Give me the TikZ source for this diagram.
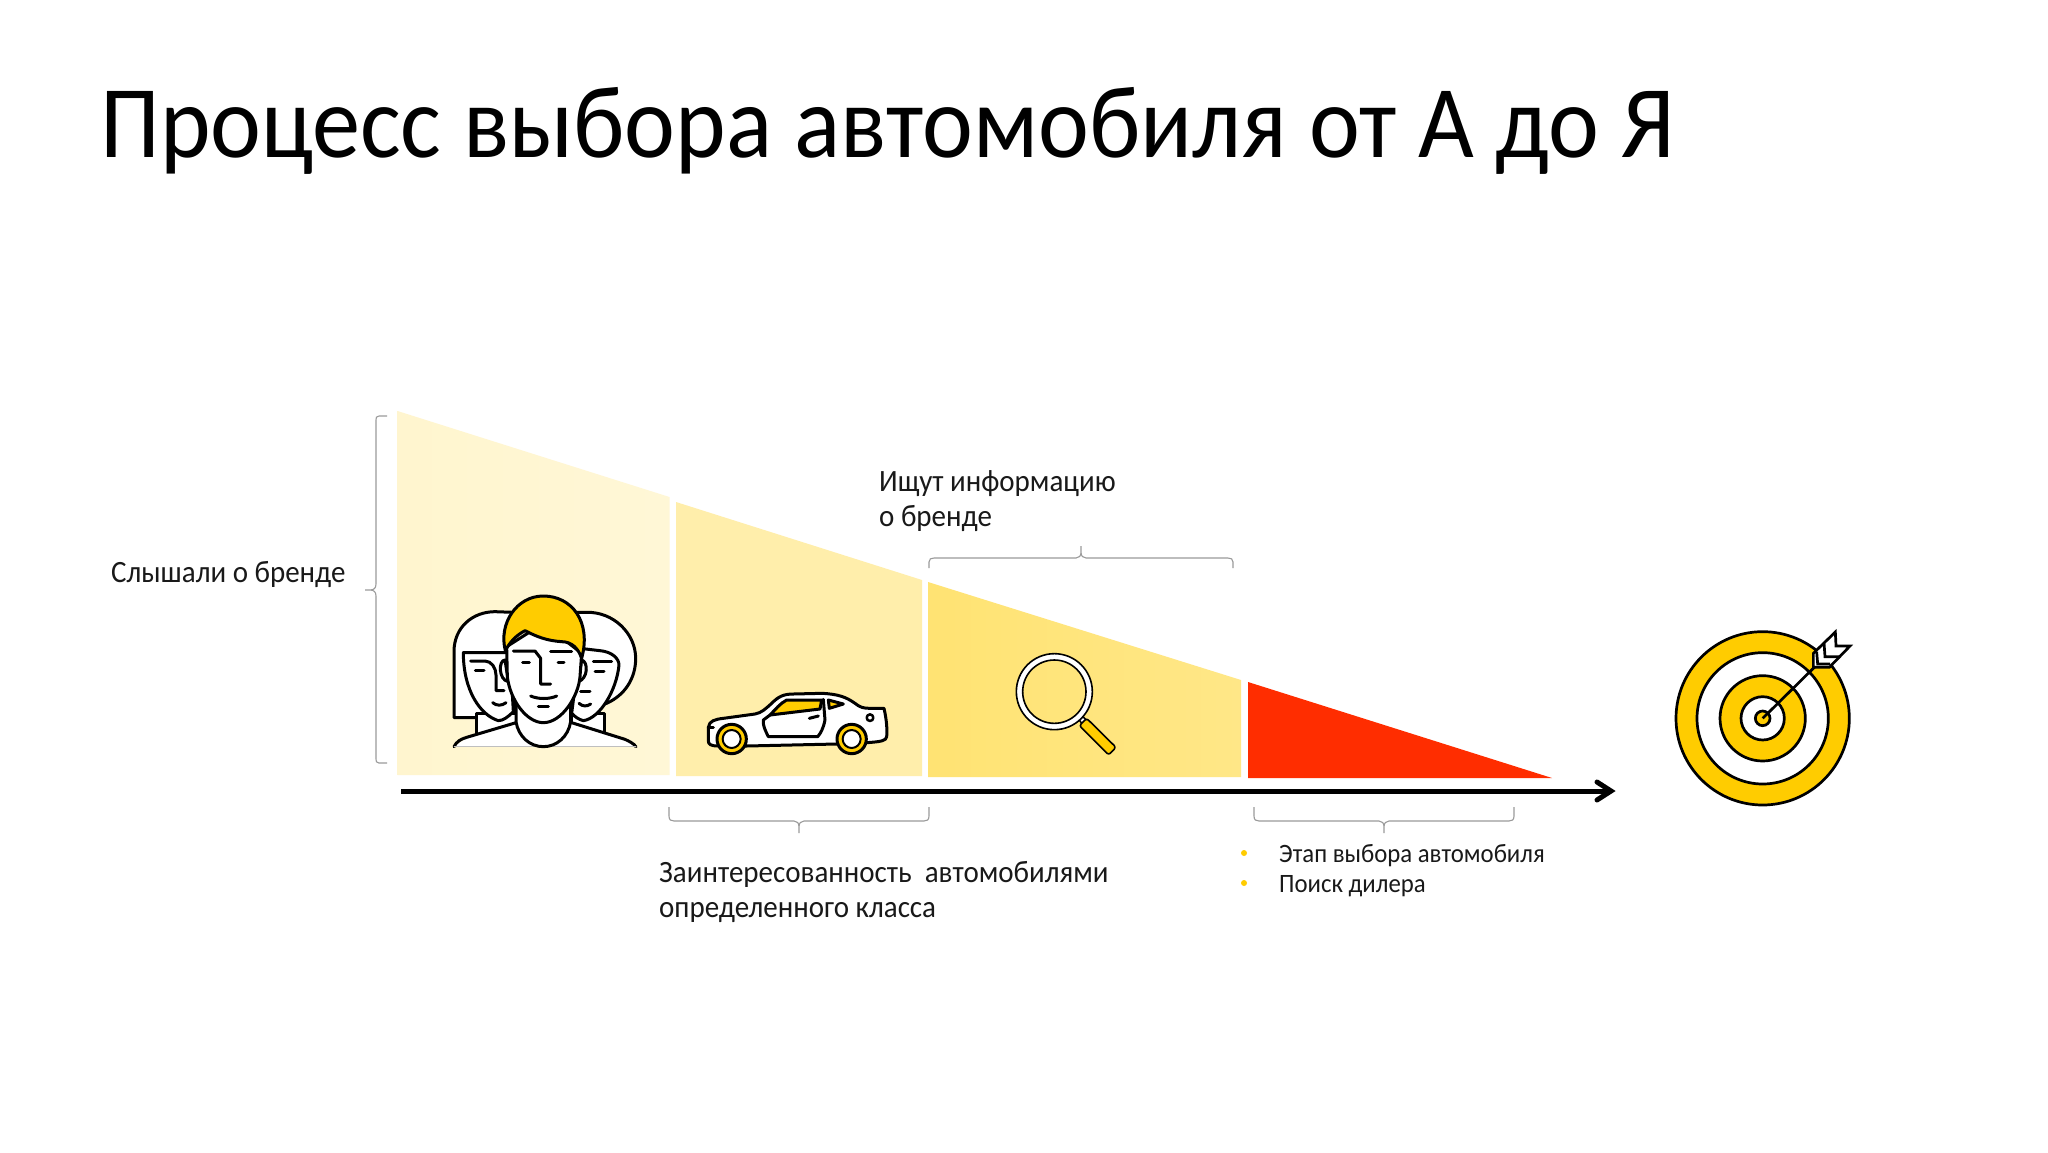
\documentclass[tikz,border=0pt]{standalone}
\usepackage{fontspec}
\setmainfont{Carlito}[FakeStretch=0.935]
\usetikzlibrary{arrows.meta,calc}
\definecolor{ya}{HTML}{FFCC00}
\definecolor{redd}{HTML}{FF2D00}
\definecolor{brc}{HTML}{9A9A9A}
\tikzset{
 bracestyle/.style={draw=brc,line width=1.1pt,fill=none},
 lbl/.style={font=\fontsize{31}{35}\selectfont,anchor=base west,inner sep=0pt,align=left,text=black!90},
 sm/.style={font=\fontsize{26.5}{30}\selectfont,anchor=base west,inner sep=0pt,text=black!90},
 bullet/.style={circle,fill=ya,inner sep=0pt,minimum size=6pt}
}
\begin{document}
\begin{tikzpicture}[x=1pt,y=-1pt]
\useasboundingbox (0,0) rectangle (2048,1152);
\fill[white] (0,0) rectangle (2048,1152);
\node[font=\fontsize{103}{110}\selectfont,anchor=base west,inner sep=0pt] (title) at (100,157) {Процесс выбора автомобиля от А до Я};
% panels
\shade[left color=ya!19!white,right color=ya!16!white] (397.5,411) -- (669.5,497) -- (669.5,775) -- (397.5,775) -- cycle;
\fill[color=ya!33!white] (676,502) -- (922,580) -- (922,776) -- (676,776) -- cycle;
\shade[left color=ya!55!white,right color=ya!47!white] (928,582) -- (1241,680) -- (1241,777) -- (928,777) -- cycle;
\fill[redd] (1248,682) -- (1552,778) -- (1248,778) -- cycle;
% axis
\coordinate (axs) at (401,791);
\coordinate (axe) at (1611,791);
\draw[line width=5pt] (axs) -- (axe);
\draw[line width=5pt,line cap=round,line join=miter] (1597,782) -- (axe) -- (1597,800);
% braces
\draw[bracestyle] (387,416) -- (379,416) .. controls (376,416) and (376,418) .. (376,420) -- (376,584) .. controls (376,588) and (374,590) .. (370,590) -- (365,590) (370,590) .. controls (374,590) and (376,592) .. (376,596) -- (376,759) .. controls (376,761) and (376,763) .. (379,763) -- (387,763);
\draw[bracestyle] (669,807) -- (669,816) .. controls (669,820) and (671,821) .. (674,821) -- (794,821) .. controls (797,821) and (799,823) .. (799,827) -- (799,833) (799,827) .. controls (799,823) and (801,821) .. (804,821) -- (924,821) .. controls (927,821) and (929,820) .. (929,816) -- (929,807);
\draw[bracestyle] (1254,807) -- (1254,816) .. controls (1254,820) and (1256,821) .. (1259,821) -- (1379,821) .. controls (1382,821) and (1384,823) .. (1384,827) -- (1384,833) (1384,827) .. controls (1384,823) and (1386,821) .. (1389,821) -- (1509,821) .. controls (1512,821) and (1514,820) .. (1514,816) -- (1514,807);
\draw[bracestyle] (929,568) -- (929,562) .. controls (929,559) and (931,558) .. (934,558) -- (1076,558) .. controls (1079,558) and (1081,556) .. (1081,552) -- (1081,546) (1081,552) .. controls (1081,556) and (1083,558) .. (1086,558) -- (1228,558) .. controls (1231,558) and (1233,559) .. (1233,562) -- (1233,568);
% labels
\node[lbl] (heard) at (111,582) {Слышали о бренде};
\node[lbl] (search) at (879,526) {Ищут информацию\\о бренде};
\node[lbl] (interest) at (659,917) {Заинтересованность\ \ автомобилями\\определенного класса};
\node[bullet] (b1) at (1244,853) {};
\node[bullet] (b2) at (1244,883) {};
\node[sm] (t1) at (1279,862) {Этап выбора автомобиля};
\node[sm] (t2) at (1279,892) {Поиск дилера};
% people icon
\begin{scope}[shift={(430,580)},x=1/3*1pt,y=-1/3*1pt,every path/.append style={line width=3pt,draw=black,line join=round,line cap=round}]
 \filldraw[fill=white] (72,413) -- (72,215) .. controls (72,140) and (130,95) .. (195,95) -- (250,97) -- (250,413) -- cycle;
 \filldraw[fill=white] (430,97) -- (470,97) .. controls (550,95) and (617,160) .. (617,235) .. controls (617,295) and (585,345) .. (530,370) -- (430,400) -- cycle;
 \filldraw[fill=white] (140,400) -- (140,470) -- (260,470) -- (260,400) -- cycle;
 \filldraw[fill=white] (425,400) -- (425,470) -- (523,470) -- (523,400) -- cycle;
 \filldraw[fill=white] (100,218) -- (240,218) -- (250,395) .. controls (235,410) and (220,422) .. (205,422) .. controls (150,405) and (100,330) .. (100,218) -- cycle;
 \filldraw[fill=white] (450,205) -- (510,212) .. controls (545,215) and (567,235) .. (567,255) .. controls (560,330) and (510,415) .. (460,422) .. controls (445,418) and (435,410) .. (425,400) -- cycle;
 \fill[white,draw=none] (74,499) -- (616,499) -- (585,480) -- (425,430) -- (258,430) -- (110,474) -- cycle;
 \draw (72,500) .. controls (80,485) and (90,478) .. (110,472) -- (258,428);
 \draw (425,428) -- (585,478) .. controls (600,485) and (610,490) .. (618,500);
 \draw[line width=.5pt,draw=black!25] (72,500) -- (618,500);
 \filldraw[fill=white] (258,360) -- (258,425) .. controls (265,470) and (300,500) .. (340,500) .. controls (380,500) and (415,470) .. (422,425) -- (422,360) -- cycle;
 \filldraw[fill=white] (225,240) .. controls (205,240) and (205,300) .. (235,305) -- cycle;
 \filldraw[fill=white] (455,240) .. controls (475,245) and (475,295) .. (445,305) -- cycle;
 \filldraw[fill=white] (230,200) -- (232,290) .. controls (240,360) and (290,428) .. (340,428) .. controls (395,428) and (445,350) .. (450,290) -- (455,220) -- (340,130) -- cycle;
 \filldraw[fill=ya] (226,212) .. controls (205,130) and (260,48) .. (340,48) .. controls (425,48) and (485,125) .. (455,235) .. controls (445,205) and (425,185) .. (395,185) .. controls (350,182) and (320,170) .. (285,152) .. controls (260,165) and (240,185) .. (226,212) -- cycle;
 \draw (250,213) -- (315,213) -- (332,235) -- (332,312) -- (362,312);
 \draw (362,213) -- (425,213);
 \draw (278,246) -- (298,246);
 \draw (384,246) -- (402,246);
 \draw (302,348) .. controls (325,358) and (358,358) .. (380,348);
 \draw (325,380) -- (355,380);
 \draw (122,243) -- (165,243) .. controls (185,243) and (198,265) .. (198,285) -- (198,332) -- (222,332);
 \draw (136,272) -- (162,272);
 \draw (188,368) .. controls (200,378) and (215,378) .. (228,368);
 \draw (490,245) -- (545,245);
 \draw (495,274) -- (522,274);
 \draw (452,335) -- (480,335);
 \draw (447,370) .. controls (458,380) and (470,380) .. (482,372);
\end{scope}
% car icon
\begin{scope}[shift={(690,670)},x=1/3*1pt,y=-1/3*1pt,every path/.append style={line width=3pt,draw=black,line join=round,line cap=round}]
 \filldraw[fill=white] (85,228) .. controls (60,228) and (55,222) .. (55,212) -- (55,172) .. controls (58,152) and (75,148) .. (100,145) -- (195,132) .. controls (215,128) and (225,118) .. (245,100) .. controls (265,80) and (280,72) .. (310,72) -- (395,70) .. controls (445,72) and (470,82) .. (495,100) .. controls (510,112) and (520,115) .. (540,115) -- (582,115) .. controls (590,150) and (592,180) .. (590,200) .. controls (588,212) and (575,215) .. (530,218) -- (440,222) -- (170,228) -- cycle;
 \filldraw[fill=ya] (240,135) .. controls (255,120) and (270,100) .. (290,90) -- (395,90) -- (390,117) -- cycle;
 \filldraw[fill=ya] (415,90) -- (460,102) -- (418,115) -- cycle;
 \draw (400,88) -- (405,150) .. controls (400,175) and (392,190) .. (383,200) -- (235,200) .. controls (225,180) and (218,165) .. (220,150) -- (240,135);
 \draw (358,145) -- (385,138);
 \draw[line width=2.5pt] (540,143) circle (10);
 \draw (55,172) -- (70,172);
 \filldraw[fill=ya] (125,207) circle (44);
 \filldraw[fill=white,line width=2pt] (125,207) circle (27);
 \filldraw[fill=ya] (485,207) circle (44);
 \filldraw[fill=white,line width=2pt] (485,207) circle (27);
\end{scope}
% magnifier
\begin{scope}[shift={(960,620)},x=1/3*1pt,y=-1/3*1pt,every path/.append style={line width=1.6pt,draw=black,line join=round}]
 \filldraw[fill=white] (358,300) -- (368,290) -- (385,305) -- (372,320) -- cycle;
 \filldraw[fill=ya,rounded corners=2.5pt] (380,295) -- (468,382) -- (446,405) -- (358,317) -- cycle;
 \filldraw[fill=white,even odd rule] (283,215) circle (114) (283,215) circle (95);
\end{scope}
% target
\begin{scope}[shift={(1640,610)},x=1/3*1pt,y=-1/3*1pt,every path/.append style={line width=2.7pt,draw=black,line join=miter}]
 \filldraw[fill=ya] (368,325) circle (260);
 \filldraw[fill=white] (368,325) circle (197);
 \filldraw[fill=ya] (368,325) circle (128);
 \filldraw[fill=white] (368,325) circle (65);
 \filldraw[fill=ya] (368,325) circle (22);
 \draw (368,325) -- (530,165);
 \filldraw[fill=white] (520,130) -- (586,66) -- (588,108) -- (630,108) -- (568,172) -- (520,172) -- cycle;
 \draw (552,98) -- (555,140) -- (597,140);
 \draw (530,125) -- (533,162) -- (570,162);
\end{scope}
\end{tikzpicture}
\end{document}
